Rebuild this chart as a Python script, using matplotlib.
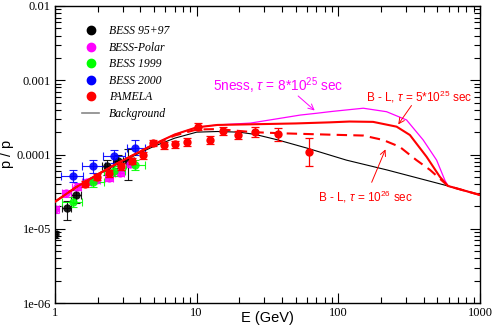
import matplotlib
matplotlib.use("Agg")
import matplotlib.pyplot as plt
from matplotlib.lines import Line2D

# ---- data ----
# PAMELA antiproton / proton ratio
pamela_E = [1.63, 1.98, 2.4, 2.9, 3.48, 4.16, 4.94, 5.91, 7.03, 8.5, 10.2, 12.4, 15.4, 19.7, 25.9, 37.3, 61.7]
pamela_p = [4.0e-5, 5.0e-5, 5.6e-5, 6.9e-5, 8.2e-5, 9.8e-5, 1.43e-4, 1.34e-4, 1.38e-4, 1.47e-4, 2.37e-4, 1.57e-4, 2.07e-4, 1.83e-4, 1.99e-4, 1.87e-4, 1.09e-4]
pamela_dn = [0.4e-5, 0.5e-5, 0.6e-5, 0.7e-5, 0.8e-5, 1.0e-5, 1.4e-5, 1.4e-5, 1.5e-5, 1.6e-5, 2.5e-5, 1.9e-5, 2.3e-5, 2.1e-5, 2.9e-5, 3.5e-5, 3.9e-5]
pamela_up = [0.4e-5, 0.5e-5, 0.6e-5, 0.7e-5, 0.8e-5, 1.0e-5, 1.5e-5, 1.5e-5, 1.6e-5, 1.8e-5, 2.8e-5, 2.2e-5, 2.6e-5, 2.5e-5, 3.4e-5, 4.3e-5, 5.9e-5]

# BESS 95+97
b9597_E = [1.0, 1.21, 1.41, 2.34, 2.77, 3.29]
b9597_lo = [0.97, 1.12, 1.3, 2.15, 2.55, 3.0]
b9597_hi = [1.03, 1.3, 1.52, 2.55, 3.0, 3.6]
b9597_p = [8.4e-6, 1.88e-5, 2.85e-5, 6.9e-5, 8.1e-5, 8.1e-5]
b9597_dn = [1.0e-6, 0.57e-5, 0.65e-5, 1.6e-5, 1.5e-5, 3.6e-5]
b9597_up = [1.0e-6, 0.49e-5, 0.45e-5, 1.5e-5, 1.7e-5, 3.9e-5]

# BESS-Polar
bpol_E = [1.0, 1.2, 1.42, 1.67, 1.95, 2.41, 2.87, 3.4]
bpol_lo = [0.94, 1.12, 1.32, 1.55, 1.82, 2.24, 2.67, 3.16]
bpol_hi = [1.06, 1.29, 1.52, 1.79, 2.09, 2.58, 3.07, 3.64]
bpol_p = [1.85e-5, 3.0e-5, 3.7e-5, 4.3e-5, 4.6e-5, 4.9e-5, 5.7e-5, 7.5e-5]
bpol_dn = [0.2e-5, 0.3e-5, 0.4e-5, 0.4e-5, 0.5e-5, 0.5e-5, 0.6e-5, 0.8e-5]
bpol_up = [0.2e-5, 0.3e-5, 0.4e-5, 0.4e-5, 0.5e-5, 0.5e-5, 0.6e-5, 0.8e-5]

# BESS 1999
b99_E = [1.33, 1.84, 2.62, 3.65]
b99_lo = [1.12, 1.57, 2.2, 3.15]
b99_hi = [1.56, 2.2, 3.1, 4.3]
b99_p = [2.3e-5, 4.2e-5, 6.0e-5, 7.2e-5]
b99_dn = [0.35e-5, 0.6e-5, 0.9e-5, 1.1e-5]
b99_up = [0.35e-5, 0.6e-5, 0.9e-5, 1.2e-5]

# BESS 2000
b00_E = [1.33, 1.86, 2.61, 3.65]
b00_lo = [1.10, 1.55, 2.19, 3.2]
b00_hi = [1.58, 2.25, 3.12, 4.3]
b00_p = [5.1e-5, 7.0e-5, 9.5e-5, 1.22e-4]
b00_dn = [0.9e-5, 1.3e-5, 1.7e-5, 2.5e-5]
b00_up = [1.0e-5, 1.5e-5, 2.0e-5, 3.3e-5]

# model curves
bg_E = [1, 1.41, 2, 2.82, 4, 5, 7, 10, 14, 20, 26, 37, 60, 114, 220, 594, 1000]
bg_p = [2.31e-5, 3.63e-5, 5.3e-5, 7.6e-5, 1.06e-4, 1.29e-4, 1.66e-4, 2.0e-4, 2.04e-4, 2.0e-4, 1.86e-4, 1.58e-4, 1.22e-4, 8.4e-5, 6.2e-5, 3.77e-5, 2.85e-5]

bl5_E = [1, 1.41, 2, 2.82, 4, 5, 7, 10, 14, 24, 50, 87, 120, 176, 258, 320, 420, 521, 594, 1000]
bl5_p = [2.31e-5, 3.63e-5, 5.4e-5, 7.8e-5, 1.1e-4, 1.38e-4, 1.86e-4, 2.32e-4, 2.5e-4, 2.55e-4, 2.62e-4, 2.71e-4, 2.78e-4, 2.75e-4, 2.37e-4, 1.83e-4, 9.3e-5, 5.0e-5, 3.77e-5, 2.85e-5]

ness_E = [1, 1.41, 2, 2.82, 4, 5, 7, 10, 14, 24, 54, 70, 90, 114, 150, 219, 303, 397, 494, 565, 594, 1000]
ness_p = [2.31e-5, 3.63e-5, 5.4e-5, 7.8e-5, 1.1e-4, 1.38e-4, 1.86e-4, 2.32e-4, 2.5e-4, 2.65e-4, 3.4e-4, 3.59e-4, 3.8e-4, 3.98e-4, 4.2e-4, 3.77e-4, 2.92e-4, 1.57e-4, 8.4e-5, 4.5e-5, 3.77e-5, 2.85e-5]

bl26_E = [1, 1.41, 2, 2.82, 4, 5, 7, 10, 14, 25, 40, 87, 150, 207, 271, 356, 444, 550, 594, 1000]
bl26_p = [2.31e-5, 3.63e-5, 5.4e-5, 7.8e-5, 1.1e-4, 1.36e-4, 1.8e-4, 2.17e-4, 2.2e-4, 2.0e-4, 1.93e-4, 1.85e-4, 1.8e-4, 1.57e-4, 1.27e-4, 8.4e-5, 6.2e-5, 4.3e-5, 3.77e-5, 2.85e-5]

xticks = [1, 10, 100, 1000]
xticklabels = ["1", "10", "100", "1000"]
yticks = [1e-6, 1e-5, 1e-4, 1e-3, 1e-2]
yticklabels = ["1e-06", "1e-05", "0.0001", "0.001", "0.01"]

plt.rcParams["mathtext.fontset"] = "custom"
plt.rcParams["mathtext.rm"] = "Liberation Sans"
plt.rcParams["mathtext.it"] = "Liberation Sans:italic"

fig = plt.figure(figsize=(4.93, 3.34), dpi=100)
ax = fig.add_axes([55 / 493, 1 - 303 / 334, 425 / 493, 297 / 334])


def err_set(E, lo, hi, p, dn, up, color):
    xerr = [[e - l for e, l in zip(E, lo)], [h - e for e, h in zip(E, hi)]]
    ax.errorbar(E, p, xerr=xerr, yerr=[dn, up], fmt="o", color=color, ms=6,
                mec="none", ecolor=color, elinewidth=0.8, capsize=3,
                capthick=0.8, alpha=0.9, zorder=2)


# BESS sets
err_set(b9597_E, b9597_lo, b9597_hi, b9597_p, b9597_dn, b9597_up, "black")
err_set(bpol_E, bpol_lo, bpol_hi, bpol_p, bpol_dn, bpol_up, "#ff00ff")
err_set(b99_E, b99_lo, b99_hi, b99_p, b99_dn, b99_up, "#00ff00")
err_set(b00_E, b00_lo, b00_hi, b00_p, b00_dn, b00_up, "#0000ff")

# model curves
ax.plot(bg_E, bg_p, color="black", lw=0.8, zorder=3)
ax.plot(ness_E, ness_p, color="#ff00ff", lw=0.9, zorder=3)
ax.plot(bl26_E, bl26_p, color="#ff0000", lw=1.5, ls=(0, (5, 3)), zorder=3)
ax.plot(bl5_E, bl5_p, color="#ff0000", lw=1.5, zorder=4)

# PAMELA
ax.errorbar(pamela_E, pamela_p, yerr=[pamela_dn, pamela_up], fmt="o", color="#ff0000",
            ms=6, mec="none", elinewidth=0.9, capsize=3, capthick=0.9, zorder=5)

ax.set_xscale("log")
ax.set_yscale("log")
ax.set_xlim(1, 1000)
ax.set_ylim(1e-6, 1e-2)
ax.set_xticks(xticks)
ax.set_xticklabels(xticklabels, family="Liberation Serif", fontsize=9)
ax.set_yticks(yticks)
ax.set_yticklabels(yticklabels, family="Liberation Serif", fontsize=9)
ax.tick_params(which="both", direction="in", top=True, right=True, width=0.8)
ax.tick_params(which="major", length=7, pad=3)
ax.tick_params(which="minor", length=4)
for s in ax.spines.values():
    s.set_linewidth(1.0)

ax.set_xlabel("E (GeV)", family="Liberation Sans", fontsize=10.5)
ax.xaxis.set_label_coords(0.5, -0.026)
ax.set_ylabel(r"$\overline{\mathrm{p}}$ / p", family="Liberation Sans", fontsize=10.5)
ax.yaxis.set_label_coords(-0.086, 0.5)

# annotations
tfont = dict(family="Liberation Sans", va="center", ha="left")
ax.text(13.0, 8.4e-4, r"5ness, $\tau$ = 8*10$^{25}$ sec", color="#ff00ff",
        fontsize=9.8, **tfont)
ax.annotate("", xy=(70.4, 3.7e-4), xytext=(50.3, 6.5e-4),
            arrowprops=dict(arrowstyle="->", color="#ff00ff", lw=0.7))
ax.text(158, 6.0e-4, r"B - L, $\tau$ = 5*10$^{25}$ sec", color="#ff0000",
        fontsize=8.5, **tfont)
ax.annotate("", xy=(258, 2.37e-4), xytext=(337, 4.9e-4),
            arrowprops=dict(arrowstyle="->", color="#ff0000", lw=0.7))
ax.text(72, 2.7e-5, r"B - L, $\tau$ = 10$^{26}$ sec", color="#ff0000",
        fontsize=8.5, **tfont)
ax.annotate("", xy=(219, 1.27e-4), xytext=(169, 3.9e-5),
            arrowprops=dict(arrowstyle="->", color="#ff0000", lw=0.7))

# legend
handles = [
    Line2D([], [], marker="o", ls="none", color="black", ms=6),
    Line2D([], [], marker="o", ls="none", color="#ff00ff", ms=6),
    Line2D([], [], marker="o", ls="none", color="#00ff00", ms=6),
    Line2D([], [], marker="o", ls="none", color="#0000ff", ms=6),
    Line2D([], [], marker="o", ls="none", color="#ff0000", ms=6),
    Line2D([], [], color="#888888", lw=1.2),
]
labels = ["BESS 95+97", "BESS-Polar", "BESS 1999", "BESS 2000", "PAMELA", "Background"]
ax.legend(handles, labels, loc="upper left", bbox_to_anchor=(0.063, 0.935),
          frameon=False, borderpad=0, borderaxespad=0, handlelength=1.5,
          handletextpad=0.8, labelspacing=0.38,
          prop=dict(family="Liberation Serif", style="italic", size=8.5))

fig.savefig("out.png", dpi=100)
